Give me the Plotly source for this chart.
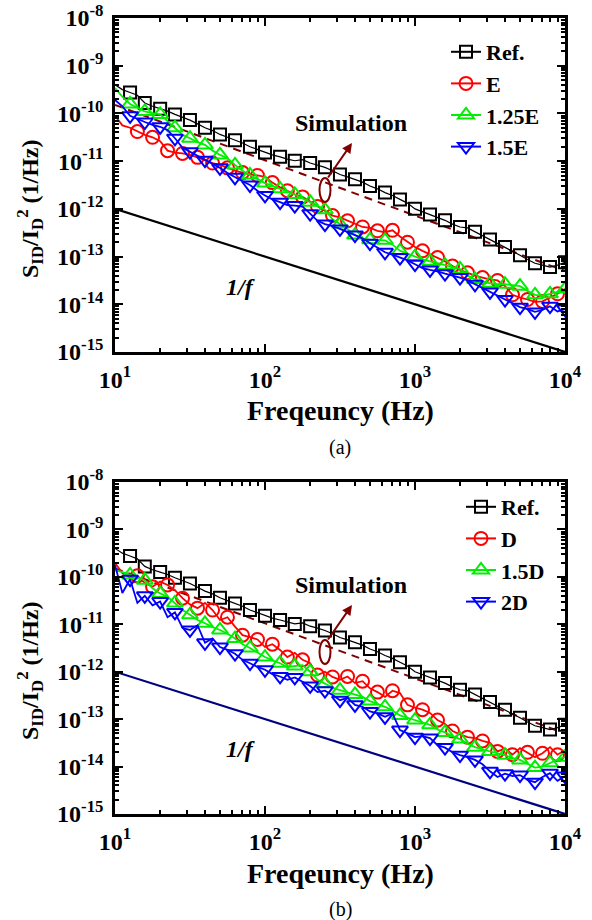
import plotly.graph_objects as go

# ---------------- data ----------------
FREQ = [10, 11.2, 12.6, 14.1, 15.8, 17.8, 20, 22.4, 25.1, 28.2, 31.6, 35.5, 39.8, 44.7, 50.1, 56.2, 63.1, 70.8, 79.4, 89.1,
        100, 112, 126, 141, 158, 178, 200, 224, 251, 282, 316, 355, 398, 447, 501, 562, 631, 708, 794, 891,
        1000, 1122, 1259, 1413, 1585, 1778, 1995, 2239, 2512, 2818, 3162, 3548, 3981, 4467, 5012, 5623, 6310, 7079, 7943, 8913, 10000]

REF = [3.98e-10, 3.16e-10, 2.75e-10, 2.40e-10, 1.66e-10, 1.41e-10, 1.26e-10, 1.12e-10, 9.55e-11, 8.32e-11,
       7.24e-11, 6.03e-11, 5.01e-11, 4.37e-11, 3.63e-11, 3.16e-11, 2.75e-11, 2.40e-11, 2.00e-11, 1.74e-11,
       1.51e-11, 1.35e-11, 1.23e-11, 1.10e-11, 1.02e-11, 1.07e-11, 9.12e-12, 8.32e-12, 7.41e-12, 6.31e-12,
       5.25e-12, 4.68e-12, 4.17e-12, 3.63e-12, 3.02e-12, 2.63e-12, 2.19e-12, 1.91e-12, 1.58e-12, 1.32e-12,
       1.00e-12, 8.71e-13, 7.59e-13, 6.76e-13, 5.75e-13, 4.79e-13, 4.17e-13, 3.98e-13, 3.31e-13, 2.75e-13,
       2.29e-13, 1.91e-13, 1.58e-13, 1.32e-13, 1.07e-13, 8.71e-14, 7.24e-14, 6.61e-14, 6.03e-14, 6.61e-14,
       7.59e-14]

E_1 = [8.91e-11, 5.62e-11, 5.01e-11, 4.17e-11, 3.55e-11, 3.16e-11, 2.63e-11, 1.66e-11, 1.51e-11, 1.45e-11,
       1.35e-11, 1.20e-11, 1.05e-11, 9.12e-12, 8.32e-12, 7.24e-12, 6.31e-12, 5.75e-12, 5.25e-12, 5.01e-12,
       4.68e-12, 3.55e-12, 2.82e-12, 2.40e-12, 2.00e-12, 1.78e-12, 1.41e-12, 1.12e-12, 8.91e-13, 7.24e-13,
       6.61e-13, 5.62e-13, 4.79e-13, 4.17e-13, 3.98e-13, 3.47e-13, 3.24e-13, 3.55e-13, 2.63e-13, 2.00e-13,
       1.58e-13, 1.32e-13, 1.12e-13, 9.55e-14, 7.94e-14, 6.31e-14, 5.25e-14, 4.57e-14, 3.98e-14, 3.63e-14,
       3.31e-14, 3.16e-14, 2.40e-14, 1.58e-14, 1.38e-14, 1.26e-14, 1.12e-14, 1.15e-14, 1.38e-14, 1.66e-14,
       2.09e-14]

E_125 = [3.39e-10, 2.24e-10, 1.58e-10, 1.32e-10, 1.10e-10, 1.02e-10, 9.55e-11, 6.92e-11, 5.01e-11, 3.55e-11,
         3.02e-11, 2.51e-11, 2.19e-11, 1.66e-11, 1.35e-11, 1.15e-11, 8.32e-12, 6.31e-12, 5.13e-12, 4.17e-12,
         3.47e-12, 3.02e-12, 2.63e-12, 2.29e-12, 2.00e-12, 1.66e-12, 1.38e-12, 1.15e-12, 9.55e-13, 6.03e-13,
         4.79e-13, 3.80e-13, 2.82e-13, 2.40e-13, 2.24e-13, 2.19e-13, 2.19e-13, 1.78e-13, 1.32e-13, 1.15e-13,
         1.00e-13, 8.71e-14, 7.94e-14, 7.24e-14, 6.61e-14, 6.17e-14, 5.50e-14, 3.98e-14, 3.31e-14, 3.02e-14,
         2.75e-14, 2.63e-14, 2.63e-14, 2.51e-14, 2.40e-14, 1.91e-14, 1.58e-14, 1.51e-14, 1.66e-14, 1.82e-14,
         2.09e-14]

E_15 = [1.91e-10, 1.41e-10, 8.91e-11, 7.59e-11, 6.61e-11, 5.75e-11, 5.25e-11, 4.47e-11, 3.02e-11, 1.91e-11,
        1.58e-11, 1.26e-11, 1.05e-11, 8.71e-12, 7.24e-12, 5.62e-12, 4.57e-12, 3.80e-12, 3.16e-12, 2.40e-12,
        1.91e-12, 1.58e-12, 1.38e-12, 1.20e-12, 1.17e-12, 1.12e-12, 7.94e-13, 5.62e-13, 4.79e-13, 4.37e-13,
        3.80e-13, 3.31e-13, 2.82e-13, 2.40e-13, 1.91e-13, 1.51e-13, 1.23e-13, 1.10e-13, 9.55e-14, 8.32e-14,
        6.92e-14, 5.75e-14, 5.25e-14, 4.90e-14, 4.37e-14, 3.98e-14, 3.63e-14, 3.16e-14, 2.63e-14, 2.19e-14,
        1.82e-14, 1.51e-14, 1.26e-14, 1.05e-14, 8.71e-15, 7.94e-15, 6.92e-15, 7.59e-15, 9.12e-15, 7.08e-15,
        7.94e-15]

D_1 = [1.95e-10, 1.20e-10, 9.55e-11, 1.05e-10, 7.41e-11, 6.17e-11, 7.94e-11, 6.76e-11, 5.25e-11, 3.55e-11,
       2.63e-11, 2.19e-11, 2.82e-11, 2.00e-11, 1.23e-11, 1.41e-11, 8.91e-12, 5.89e-12, 5.37e-12, 4.79e-12,
       3.31e-12, 3.80e-12, 2.88e-12, 2.04e-12, 2.51e-12, 1.78e-12, 1.51e-12, 8.51e-13, 1.00e-12, 7.76e-13,
       6.76e-13, 7.94e-13, 5.75e-13, 6.31e-13, 4.47e-13, 3.72e-13, 2.95e-13, 3.98e-13, 3.55e-13, 2.00e-13,
       1.74e-13, 1.58e-13, 1.35e-13, 9.55e-14, 7.94e-14, 5.62e-14, 4.79e-14, 4.17e-14, 3.98e-14, 3.47e-14,
       3.16e-14, 2.09e-14, 2.40e-14, 1.78e-14, 2.45e-14, 2.00e-14, 1.58e-14, 1.91e-14, 2.57e-14, 1.78e-14,
       2.24e-14]

D_15 = [1.38e-10, 1.26e-10, 1.10e-10, 9.55e-11, 8.51e-11, 5.75e-11, 4.47e-11, 3.80e-11, 2.82e-11, 2.00e-11,
        1.58e-11, 1.23e-11, 1.05e-11, 8.71e-12, 7.59e-12, 6.31e-12, 5.01e-12, 3.80e-12, 3.16e-12, 2.51e-12,
        2.04e-12, 1.74e-12, 1.51e-12, 1.26e-12, 1.32e-12, 1.38e-12, 1.00e-12, 6.76e-13, 5.62e-13, 4.57e-13,
        4.07e-13, 3.63e-13, 3.31e-13, 2.95e-13, 2.40e-13, 2.09e-13, 1.82e-13, 1.51e-13, 1.20e-13, 1.07e-13,
        9.55e-14, 8.51e-14, 7.59e-14, 6.03e-14, 5.25e-14, 4.37e-14, 3.80e-14, 3.02e-14, 2.57e-14, 2.29e-14,
        2.09e-14, 1.95e-14, 1.74e-14, 1.51e-14, 1.38e-14, 1.15e-14, 9.55e-15, 1.00e-14, 1.20e-14, 1.41e-14,
        1.58e-14]

D_2 = [1.78e-10, 4.57e-11, 8.91e-11, 2.82e-11, 3.98e-11, 2.51e-11, 3.02e-11, 1.41e-11, 1.78e-11, 8.32e-12,
       7.59e-12, 9.55e-12, 4.07e-12, 5.01e-12, 3.31e-12, 2.88e-12, 2.40e-12, 1.78e-12, 1.51e-12, 1.26e-12,
       1.10e-12, 8.91e-13, 7.94e-13, 6.76e-13, 7.59e-13, 6.03e-13, 5.01e-13, 3.72e-13, 3.98e-13, 3.24e-13,
       2.51e-13, 2.82e-13, 2.00e-13, 1.82e-13, 1.45e-13, 1.32e-13, 1.12e-13, 1.32e-13, 5.89e-14, 5.01e-14,
       4.17e-14, 4.37e-14, 3.98e-14, 2.82e-14, 2.51e-14, 2.00e-14, 1.74e-14, 1.58e-14, 1.38e-14, 1.12e-14,
       7.94e-15, 6.03e-15, 7.08e-15, 6.31e-15, 6.61e-15, 5.25e-15, 4.68e-15, 6.03e-15, 7.24e-15, 5.01e-15,
       6.31e-15]

LINE_F = [10, 10000]
ONE_OVER_F = [1e-12, 1e-15]
SIM_FIT = [1.51e-10, 5.0e-14]

X_TICKS = [10, 100, 1000, 10000]
X_TICK_TEXT = ["10<sup>1</sup>", "10<sup>2</sup>", "10<sup>3</sup>", "10<sup>4</sup>"]
Y_TICKS = [1e-15, 1e-14, 1e-13, 1e-12, 1e-11, 1e-10, 1e-9, 1e-8]
Y_TICK_TEXT = ["10<sup>-15</sup>", "10<sup>-14</sup>", "10<sup>-13</sup>", "10<sup>-12</sup>",
               "10<sup>-11</sup>", "10<sup>-10</sup>", "10<sup>-9</sup>", "10<sup>-8</sup>"]

PANEL_A = [("Ref.", REF, "black", "square-open", 12, 1.2),
           ("E", E_1, "#ff0000", "circle-open", 13, 1.8),
           ("1.25E", E_125, "#00ee00", "triangle-up-open", 14, 1.8),
           ("1.5E", E_15, "#0000ff", "triangle-down-open", 14, 1.8)]
PANEL_B = [("Ref.", REF, "black", "square-open", 12, 1.2),
           ("D", D_1, "#ff0000", "circle-open", 13, 1.8),
           ("1.5D", D_15, "#00ee00", "triangle-up-open", 14, 1.8),
           ("2D", D_2, "#0000ff", "triangle-down-open", 14, 1.8)]

FONT = "Liberation Serif"
W, H = 592, 920


def px(x):
    return x / W


def py(y):
    return 1 - y / H


fig = go.Figure()


def add_panel(series, xa, ya, legend, oneff_color):
    fig.add_trace(go.Scatter(x=LINE_F, y=ONE_OVER_F, mode="lines", line=dict(color=oneff_color, width=2.2),
                             xaxis=xa, yaxis=ya, showlegend=False, hoverinfo="skip"))
    fig.add_trace(go.Scatter(x=LINE_F, y=SIM_FIT, mode="lines",
                             line=dict(color="#800000", width=2, dash="8px,6px"),
                             xaxis=xa, yaxis=ya, showlegend=False, hoverinfo="skip"))
    for k, (name, vals, col, sym, ms, lw) in enumerate(series):
        fig.add_trace(go.Scatter(x=FREQ, y=vals, mode="lines", line=dict(color=col, width=lw),
                                 xaxis=xa, yaxis=ya, showlegend=False))
        start = 2 if k != 1 else 3
        fig.add_trace(go.Scatter(x=FREQ[start::2], y=vals[start::2], mode="markers",
                                 marker=dict(symbol=sym, size=ms, color=col, line=dict(color=col, width=2)),
                                 xaxis=xa, yaxis=ya, showlegend=False))
        fig.add_trace(go.Scatter(x=[None], y=[None], mode="lines+markers", name=name,
                                 line=dict(color=col, width=2),
                                 marker=dict(symbol=sym, size=ms, color=col, line=dict(color=col, width=2)),
                                 xaxis=xa, yaxis=ya, legend=legend, showlegend=True))


add_panel(PANEL_A, "x", "y", "legend", "black")
add_panel(PANEL_B, "x2", "y2", "legend2", "#000080")

tickfont = dict(family=FONT, size=24, color="black", weight="bold")
common_x = dict(type="log", range=[1, 4], tickmode="array", tickvals=X_TICKS, ticktext=X_TICK_TEXT,
                ticks="inside", ticklen=8, tickwidth=2, tickcolor="black", showline=True, linecolor="black",
                linewidth=2.5, mirror="ticks", showgrid=False, zeroline=False, tickfont=tickfont,
                ticklabelstandoff=4, automargin=False,
                minor=dict(ticks="inside", ticklen=4, tickwidth=1.5, tickcolor="black", dtick="D1", showgrid=False))
common_y = dict(type="log", range=[-15, -8], tickmode="array", tickvals=Y_TICKS, ticktext=Y_TICK_TEXT,
                ticks="inside", ticklen=8, tickwidth=2, tickcolor="black", showline=True, linecolor="black",
                linewidth=2.5, mirror="ticks", showgrid=False, zeroline=False, tickfont=tickfont,
                ticklabelstandoff=4, automargin=False,
                minor=dict(ticks="inside", ticklen=4, tickwidth=1.5, tickcolor="black", dtick="D1", showgrid=False))

legfont = dict(family=FONT, size=22, color="black", weight="bold")

fig.update_layout(
    width=W, height=H, margin=dict(l=0, r=0, t=0, b=0, autoexpand=False),
    paper_bgcolor="white", plot_bgcolor="white",
    xaxis=dict(domain=[px(115), px(565)], anchor="y", **common_x),
    yaxis=dict(domain=[py(352), py(18)], anchor="x", **common_y),
    xaxis2=dict(domain=[px(115), px(565)], anchor="y2", **common_x),
    yaxis2=dict(domain=[py(814), py(482)], anchor="x2", **common_y),
    legend=dict(x=px(446), y=py(31), xanchor="left", yanchor="top", font=legfont,
                bgcolor="rgba(0,0,0,0)", tracegroupgap=0),
    legend2=dict(x=px(461), y=py(486), xanchor="left", yanchor="top", font=legfont,
                 bgcolor="rgba(0,0,0,0)", tracegroupgap=0),
)

ann_font_b = dict(family=FONT, size=24, color="black", weight="bold")
ytitle = "S<sub>ID</sub>/I<sub>D</sub><sup>2</sup> (1/Hz)"
for off, lab in [(0, "(a)"), (462, "(b)")]:
    fig.add_annotation(x=px(340), y=py(411 + off), xref="paper", yref="paper", text="Freqeuncy (Hz)",
                       showarrow=False, font=dict(family=FONT, size=28, color="black", weight="bold"),
                       xanchor="center", yanchor="middle")
    fig.add_annotation(x=px(30), y=py(209 + off), xref="paper", yref="paper", text=ytitle, textangle=-90,
                       showarrow=False, font=dict(family=FONT, size=24, color="black", weight="bold"),
                       xanchor="center", yanchor="middle")
    fig.add_annotation(x=px(340), y=py(447 + off), xref="paper", yref="paper", text=lab,
                       showarrow=False, font=dict(family=FONT, size=20, color="black"),
                       xanchor="center", yanchor="middle")
    fig.add_annotation(x=px(351), y=py(123 + off), xref="paper", yref="paper", text="Simulation",
                       showarrow=False, font=ann_font_b, xanchor="center", yanchor="middle")
    fig.add_annotation(x=px(240), y=py(287 + off), xref="paper", yref="paper", text="1/f",
                       showarrow=False, font=dict(family=FONT, size=24, color="black", weight="bold",
                                                  style="italic"),
                       xanchor="center", yanchor="middle")
    fig.add_annotation(x=px(352), y=py(143 + off), xref="paper", yref="paper", text="",
                       showarrow=True, arrowhead=2, arrowsize=1, arrowwidth=2, arrowcolor="#800000",
                       ax=-25, ay=36)
    fig.add_shape(type="circle", xref="paper", yref="paper",
                  x0=px(319.5), x1=px(330.5), y0=py(202 + off), y1=py(178 + off),
                  line=dict(color="#800000", width=2))

fig.write_html("out.html", post_script="document.body.style.margin='0';",
               config={"displayModeBar": False})
